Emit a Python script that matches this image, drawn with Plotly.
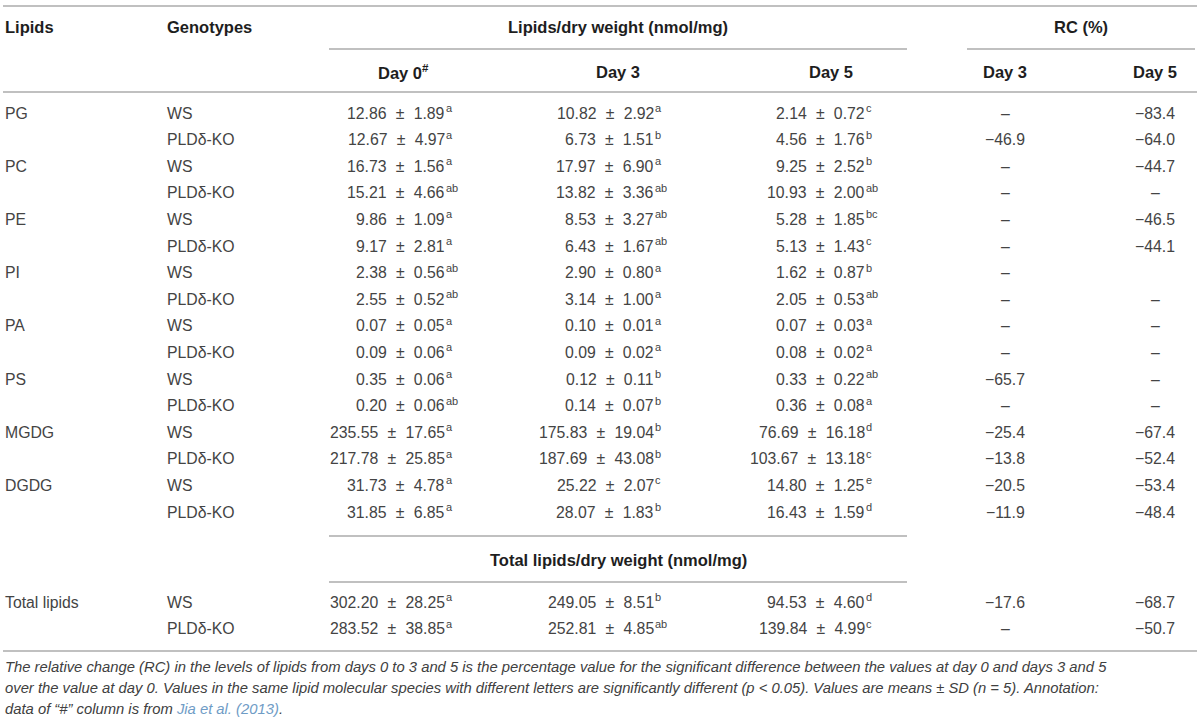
import plotly.graph_objects as go

# ---------------- data ----------------
lipids = ["PG", "PC", "PE", "PI", "PA", "PS", "MGDG", "DGDG"]
genotypes = ["WS", "PLDδ-KO"]

day0_mean = [12.86, 12.67, 16.73, 15.21, 9.86, 9.17, 2.38, 2.55, 0.07, 0.09, 0.35, 0.20, 235.55, 217.78, 31.73, 31.85]
day0_sd = [1.89, 4.97, 1.56, 4.66, 1.09, 2.81, 0.56, 0.52, 0.05, 0.06, 0.06, 0.06, 17.65, 25.85, 4.78, 6.85]
day0_let = ["a", "a", "a", "ab", "a", "a", "ab", "ab", "a", "a", "a", "ab", "a", "a", "a", "a"]

day3_mean = [10.82, 6.73, 17.97, 13.82, 8.53, 6.43, 2.90, 3.14, 0.10, 0.09, 0.12, 0.14, 175.83, 187.69, 25.22, 28.07]
day3_sd = [2.92, 1.51, 6.90, 3.36, 3.27, 1.67, 0.80, 1.00, 0.01, 0.02, 0.11, 0.07, 19.04, 43.08, 2.07, 1.83]
day3_let = ["a", "b", "a", "ab", "ab", "ab", "a", "a", "a", "a", "b", "b", "b", "b", "c", "b"]

day5_mean = [2.14, 4.56, 9.25, 10.93, 5.28, 5.13, 1.62, 2.05, 0.07, 0.08, 0.33, 0.36, 76.69, 103.67, 14.80, 16.43]
day5_sd = [0.72, 1.76, 2.52, 2.00, 1.85, 1.43, 0.87, 0.53, 0.03, 0.02, 0.22, 0.08, 16.18, 13.18, 1.25, 1.59]
day5_let = ["c", "b", "b", "ab", "bc", "c", "b", "ab", "a", "a", "ab", "a", "d", "c", "e", "d"]

rc_day3 = ["–", "−46.9", "–", "–", "–", "–", "–", "–", "–", "–", "−65.7", "–", "−25.4", "−13.8", "−20.5", "−11.9"]
rc_day5 = ["−83.4", "−64.0", "−44.7", "–", "−46.5", "−44.1", "", "–", "–", "–", "–", "–", "−67.4", "−52.4", "−53.4", "−48.4"]

total_label = "Total lipids"
total_day0_mean = [302.20, 283.52]
total_day0_sd = [28.25, 38.85]
total_day0_let = ["a", "a"]
total_day3_mean = [249.05, 252.81]
total_day3_sd = [8.51, 4.85]
total_day3_let = ["b", "ab"]
total_day5_mean = [94.53, 139.84]
total_day5_sd = [4.60, 4.99]
total_day5_let = ["d", "c"]
total_rc_day3 = ["−17.6", "–"]
total_rc_day5 = ["−68.7", "−50.7"]

caption_lines = [
    "The relative change (RC) in the levels of lipids from days 0 to 3 and 5 is the percentage value for the significant difference between the values at day 0 and days 3 and 5",
    "over the value at day 0. Values in the same lipid molecular species with different letters are significantly different (p &lt; 0.05). Values are means ± SD (n = 5). Annotation:",
    "data of “#” column is from <span style='color:#6f9cc6'>Jia et al. (2013)</span>.",
]

# ---------------- layout constants ----------------
W, H = 1200, 724
FONT = "Liberation Sans, Arial, sans-serif"
TXT = "#444444"
HDR = "#1e1e1e"
RULE = "#ababab"
FS = 15.8
HFS = 16.5

X_LIPID = 3
X_GENO = 165
X_END = [447, 656, 867]        # right edge of "mean ± sd" per day column
X_DAYHDR = [403, 618, 831]
X_RC = [1005, 1155]
X_GROUP = 618
Y_ROW0 = 113
DY = 26.6
Y_TOTAL0 = 602

SEP = "\u2002\u200a±\u200a\u2002"

ann = []
shapes = []


def text(x, y, t, anchor="left", size=FS, color=TXT, bold=False, italic=False):
    if bold:
        t = "<b>" + t + "</b>"
    if italic:
        t = "<i>" + t + "</i>"
    ann.append(dict(x=x, y=y, xref="x", yref="y", text=t, showarrow=False,
                    xanchor=anchor, yanchor="middle",
                    font=dict(family=FONT, size=size, color=color)))


def rule(x0, x1, y):
    shapes.append(dict(type="line", xref="x", yref="y", x0=x0, x1=x1, y0=y, y1=y,
                       line=dict(color=RULE, width=1.6)))


def value_cell(col, y, mean, sd, letters):
    text(X_END[col], y, f"{mean:.2f}{SEP}{sd:.2f}", anchor="right")
    text(X_END[col] - 3.5, y - 5, letters, anchor="left", size=11)


# header
rule(3, 1197, 6)
text(X_LIPID, 27, "Lipids", bold=True, color=HDR, size=HFS)
text(X_GENO, 27, "Genotypes", bold=True, color=HDR, size=HFS)
text(X_GROUP, 27, "Lipids/dry weight (nmol/mg)", anchor="center", bold=True, color=HDR, size=HFS)
text(1081, 27, "RC (%)", anchor="center", bold=True, color=HDR, size=HFS)
rule(329, 907, 49)
rule(967, 1195, 49)
day_headers = ["Day 0<sup>#</sup>", "Day 3", "Day 5"]
for i, h in enumerate(day_headers):
    text(X_DAYHDR[i], 72, h, anchor="center", bold=True, color=HDR, size=HFS)
rc_headers = ["Day 3", "Day 5"]
for i, h in enumerate(rc_headers):
    text(X_RC[i], 72, h, anchor="center", bold=True, color=HDR, size=HFS)
rule(3, 1197, 92)

# body
for i in range(len(day0_mean)):
    y = Y_ROW0 + DY * i
    if i % 2 == 0:
        text(X_LIPID, y, lipids[i // 2])
    text(X_GENO, y, genotypes[i % 2])
    value_cell(0, y, day0_mean[i], day0_sd[i], day0_let[i])
    value_cell(1, y, day3_mean[i], day3_sd[i], day3_let[i])
    value_cell(2, y, day5_mean[i], day5_sd[i], day5_let[i])
    if rc_day3[i]:
        text(X_RC[0], y, rc_day3[i], anchor="center")
    if rc_day5[i]:
        text(X_RC[1], y, rc_day5[i], anchor="center")

# total block
rule(329, 907, 536)
text(X_GROUP, 560, "Total lipids/dry weight (nmol/mg)", anchor="center", bold=True, color=HDR, size=HFS)
rule(329, 907, 582)
for j in range(2):
    y = Y_TOTAL0 + DY * j
    if j == 0:
        text(X_LIPID, y, total_label)
    text(X_GENO, y, genotypes[j])
    value_cell(0, y, total_day0_mean[j], total_day0_sd[j], total_day0_let[j])
    value_cell(1, y, total_day3_mean[j], total_day3_sd[j], total_day3_let[j])
    value_cell(2, y, total_day5_mean[j], total_day5_sd[j], total_day5_let[j])
    if total_rc_day3[j]:
        text(X_RC[0], y, total_rc_day3[j], anchor="center")
    if total_rc_day5[j]:
        text(X_RC[1], y, total_rc_day5[j], anchor="center")
rule(3, 1197, 651)

# caption
for k, line in enumerate(caption_lines):
    text(3, 667 + 21 * k, line, size=14.8, italic=True, color="#404040")

fig = go.Figure()
fig.update_layout(
    width=W, height=H,
    margin=dict(l=0, r=0, t=0, b=0),
    paper_bgcolor="white", plot_bgcolor="white",
    xaxis=dict(range=[0, W], visible=False, fixedrange=True),
    yaxis=dict(range=[H, 0], visible=False, fixedrange=True),
    annotations=ann, shapes=shapes, showlegend=False,
)
fig.write_html(
    "out.html",
    config={"displayModeBar": False},
    post_script="document.body.style.margin='0';document.body.style.overflow='hidden';",
)
